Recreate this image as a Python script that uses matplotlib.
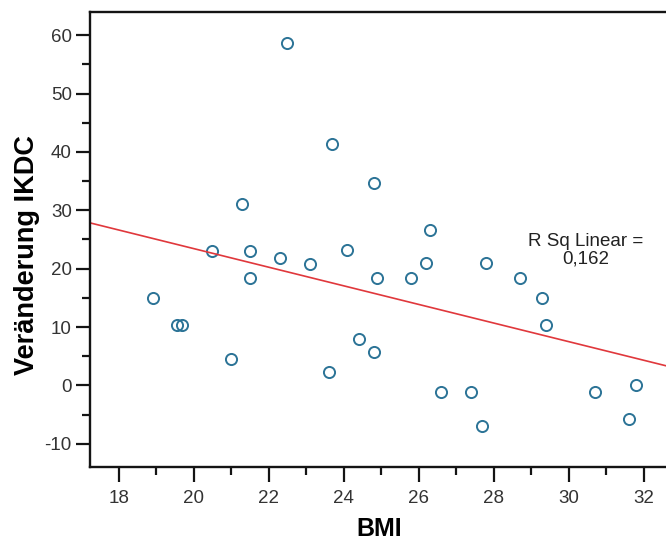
import numpy as np
import matplotlib.pyplot as plt
from matplotlib.ticker import MultipleLocator

# BMI vs. change in IKDC score
bmi = [18.9, 19.55, 19.7, 21.0, 21.5, 20.5, 21.3, 21.5, 22.3, 23.1,
       22.5, 23.7, 24.8, 24.1, 26.3, 26.2, 27.8, 25.8, 24.9, 28.7,
       29.3, 29.4, 24.4, 24.8, 23.6, 26.6, 27.4, 27.7, 30.7, 31.8, 31.6]
ikdc = [15.0, 10.4, 10.4, 4.6, 18.4, 23.0, 31.1, 23.0, 21.9, 20.8,
        58.7, 41.4, 34.6, 23.2, 26.6, 20.9, 20.9, 18.4, 18.4, 18.4,
        15.0, 10.3, 8.0, 5.8, 2.3, -1.2, -1.2, -6.9, -1.2, 0.0, -5.7]
r_sq_label = "R Sq Linear =\n0,162"

plt.rcParams['font.family'] = ['Liberation Sans', 'DejaVu Sans']
plt.rcParams['axes.unicode_minus'] = False

fig = plt.figure(figsize=(6.66, 5.4), dpi=100)
ax = fig.add_axes([0.135, 0.136, 0.865, 0.841])

ax.plot(bmi, ikdc, linestyle='none', marker='o', markersize=8,
        markerfacecolor='none', markeredgecolor='#2b7396', markeredgewidth=1.4)

x_lo, x_hi = 17.23, 32.6
slope, icpt = np.polyfit(bmi, ikdc, 1)
xs = np.array([x_lo, x_hi])
ax.plot(xs, slope * xs + icpt, color='#e0383c', linewidth=1.2)

ax.text(30.45, 23.2, r_sq_label, ha='center', va='center',
        fontsize=13.5, color='#222222', linespacing=1.05)

ax.set_xlim(x_lo, x_hi)
ax.set_ylim(-13.9, 63.9)
ax.xaxis.set_major_locator(MultipleLocator(2))
ax.xaxis.set_minor_locator(MultipleLocator(1))
ax.yaxis.set_major_locator(MultipleLocator(10))
ax.yaxis.set_minor_locator(MultipleLocator(5))

ax.spines['right'].set_visible(False)
for s in ['left', 'bottom', 'top']:
    ax.spines[s].set_linewidth(1.7)
    ax.spines[s].set_color('#141414')

ax.tick_params(which='major', length=10, width=1.6, color='#141414',
               labelsize=13.5, labelcolor='#333333', pad=3)
ax.tick_params(which='minor', length=6, width=1.6, color='#141414')
ax.tick_params(axis='x', which='major', length=11, pad=6)

ax.set_xlabel("BMI", fontsize=18, fontweight='bold', va='center')
ax.xaxis.set_label_coords(0.503, -0.137)
ax.set_ylabel("Veränderung IKDC", fontsize=19.5, fontweight='bold', va='center')
ax.yaxis.set_label_coords(-0.109, 0.466)

fig.savefig("out.png", dpi=100)
